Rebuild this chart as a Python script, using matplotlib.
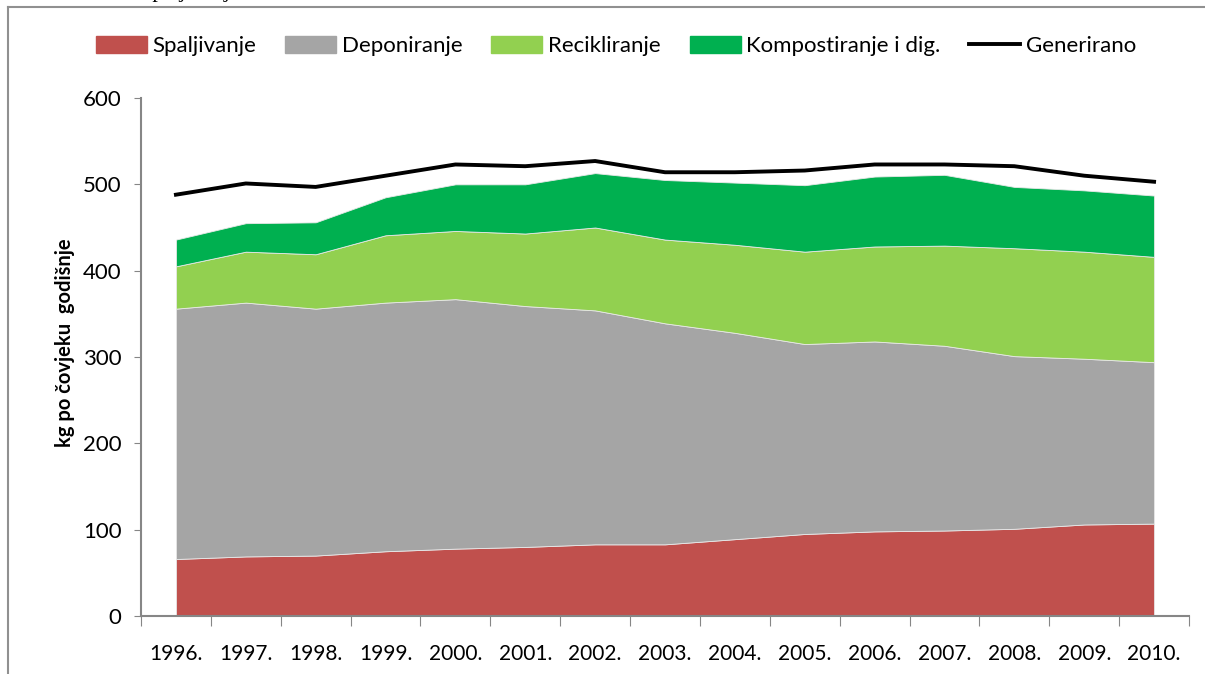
import matplotlib.pyplot as plt
from matplotlib.lines import Line2D
import numpy as np

# data (kg per person per year)
years = ["1996.", "1997.", "1998.", "1999.", "2000.", "2001.", "2002.", "2003.",
         "2004.", "2005.", "2006.", "2007.", "2008.", "2009.", "2010."]
spaljivanje = [66, 69, 70, 75, 78, 80, 83, 83, 89, 95, 98, 99, 101, 106, 107]
deponiranje = [290, 294, 286, 288, 289, 279, 271, 256, 239, 220, 220, 214, 200, 192, 187]
recikliranje = [49, 59, 63, 78, 79, 84, 96, 97, 102, 107, 110, 116, 125, 124, 122]
kompostiranje = [31, 33, 37, 44, 54, 57, 63, 69, 72, 77, 81, 82, 71, 71, 71]
generirano = [488, 501, 497, 510, 523, 521, 527, 514, 514, 516, 523, 523, 521, 510, 503]

labels = ["Spaljivanje", "Deponiranje", "Recikliranje", "Kompostiranje i dig.", "Generirano"]
colors = ["#C0504D", "#A5A5A5", "#92D050", "#00B050"]

plt.rcParams['font.family'] = ['Lato', 'DejaVu Sans']

fig = plt.figure(figsize=(12.05, 6.74), dpi=100)
ax = fig.add_axes([141 / 1205, 1 - 616 / 674, 1048 / 1205, 518 / 674])

x = np.arange(len(years))
ax.stackplot(x, spaljivanje, deponiranje, recikliranje, kompostiranje,
             colors=colors, linewidth=0.6, edgecolor='#e8e8e8')
ax.plot(x, generirano, color='black', linewidth=2.8, solid_joinstyle='round')

ax.set_xlim(-0.5, len(years) - 0.5)
ax.set_ylim(0, 600)
ax.set_yticks(range(0, 601, 100))
ax.tick_params(axis='y', labelsize=16, length=5, color='#868686', pad=9)

# category axis: ticks between the years, labels on the years
ax.set_xticks(np.arange(-0.5, len(years), 1.0))
ax.set_xticklabels([])
ax.set_xticks(x, minor=True)
ax.set_xticklabels(years, minor=True, fontsize=15)
ax.tick_params(axis='x', which='major', length=7, color='#868686')
ax.tick_params(axis='x', which='minor', length=0, pad=20)

for side in ['top', 'right']:
    ax.spines[side].set_visible(False)
for side in ['left', 'bottom']:
    ax.spines[side].set_color('#868686')
    ax.spines[side].set_linewidth(1.5)

ax.set_ylabel("kg po čovjeku  godišnje", fontsize=14.5, fontweight='bold')
ax.yaxis.set_label_coords(-0.063, 0.527)

handles = [plt.Rectangle((0, 0), 1, 1, color=c) for c in colors]
handles.append(Line2D([0], [0], color='black', linewidth=2.8))
fig.legend(handles, labels, loc='center', bbox_to_anchor=(616 / 1205, 1 - 46 / 674),
           ncol=5, frameon=False, fontsize=16, handlelength=2.3, handleheight=0.8,
           handletextpad=0.25, columnspacing=1.3)

# frame of the surrounding document and the cut-off caption above it
fig.add_artist(Line2D([8 / 1205, 1], [1 - 7 / 674, 1 - 7 / 674], color='#909090', linewidth=1.5))
fig.add_artist(Line2D([8 / 1205, 8 / 1205], [0, 1 - 7 / 674], color='#909090', linewidth=1.5))
fig.text(140 / 1205, 1 + 3 / 674, "Spaljivanje", fontsize=16, family='Liberation Serif', va='baseline')

fig.savefig("out.png", dpi=100)
